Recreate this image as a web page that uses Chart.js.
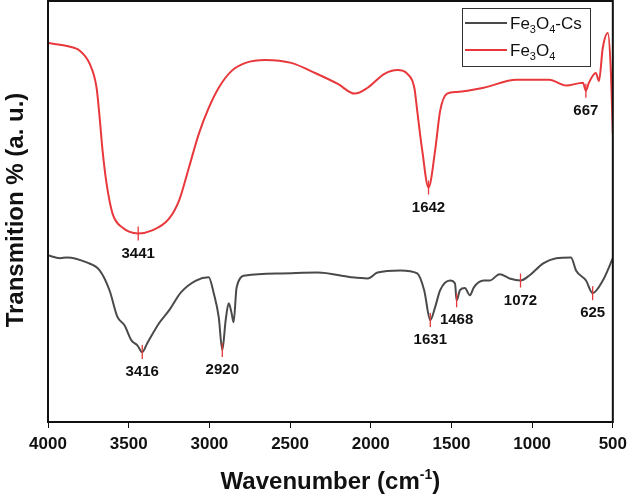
<!DOCTYPE html>
<html>
<head>
<meta charset="utf-8">
<script src="https://cdn.jsdelivr.net/npm/chart.js@4"></script>
<style>
  html, body { margin: 0; padding: 0; background: #fff; }
  #wrap { width: 633px; height: 499px; }
</style>
</head>
<body>
<div id="wrap"><canvas id="ftirChart"></canvas></div>
<script>
// Fe3O4 (red, top curve)
const fe3o4Wn = [4000, 3883, 3803, 3742, 3699, 3680, 3662, 3637, 3600, 3539, 3441, 3354, 3250, 3188, 3127, 3065, 3004, 2942, 2862, 2776, 2653, 2493, 2345, 2204, 2099, 2019, 1915, 1835, 1773, 1730, 1712, 1681, 1642, 1601, 1570, 1527, 1466, 1300, 1097, 894, 789, 685, 667, 648, 605, 586, 562, 531, 513, 500];
const fe3o4T = [90.0, 89.3, 88.2, 85.1, 79.4, 72.3, 64.5, 56.6, 49.5, 46.2, 44.8, 45.5, 48.3, 52.6, 60.4, 68.5, 74.6, 79.4, 83.4, 85.3, 86.0, 85.3, 82.9, 80.3, 78.0, 79.4, 82.7, 83.6, 82.7, 79.4, 73.9, 64.5, 55.7, 64.5, 73.9, 78.0, 78.4, 79.4, 81.3, 81.3, 79.9, 80.6, 78.7, 80.6, 82.9, 81.0, 88.9, 92.4, 84.1, 68.5];

// Fe3O4-Cs (dark grey, bottom curve)
const fe3o4CsWn = [4000, 3926, 3883, 3760, 3680, 3619, 3569, 3526, 3483, 3446, 3416, 3385, 3311, 3250, 3176, 3083, 3004, 2973, 2942, 2920, 2899, 2880, 2862, 2850, 2831, 2776, 2555, 2327, 2124, 2019, 1958, 1816, 1712, 1669, 1631, 1601, 1570, 1509, 1478, 1468, 1447, 1417, 1386, 1361, 1300, 1263, 1201, 1140, 1072, 1017, 931, 851, 759, 728, 666, 625, 562, 500];
const fe3o4CsT = [39.6, 38.9, 39.1, 37.9, 36.0, 31.3, 24.9, 23.0, 19.4, 18.2, 16.6, 18.7, 23.5, 26.5, 30.8, 33.6, 34.4, 30.6, 24.9, 17.1, 24.2, 28.2, 25.8, 23.7, 32.0, 34.8, 35.3, 35.5, 34.4, 34.1, 35.5, 36.0, 35.3, 31.3, 24.2, 27.3, 31.3, 33.6, 32.9, 28.9, 31.3, 31.8, 30.1, 32.0, 33.6, 33.6, 35.1, 34.1, 33.6, 34.8, 37.7, 38.9, 39.1, 36.0, 33.6, 30.6, 33.6, 38.9];

// Marked peaks
const fe3o4Peaks = [3441, 1642, 667];
const fe3o4CsPeaks = [3416, 2920, 1631, 1468, 1072, 625];

const RED = "#e8383b";
const GREY = "#4a4a4a";

function toPoints(wn, t) {
  return wn.map((w, i) => ({ x: w, y: t[i] }));
}

// linear interpolation of a series at a wavenumber
function valueAt(wn, t, w) {
  for (let i = 0; i < wn.length - 1; i++) {
    if (wn[i] >= w && wn[i + 1] <= w) {
      const f = (wn[i] - w) / (wn[i] - wn[i + 1]);
      return t[i] + f * (t[i + 1] - t[i]);
    }
  }
  return t[t.length - 1];
}

const decor = {
  id: "decor",
  afterDraw(chart) {
    const ctx = chart.ctx;
    const a = chart.chartArea;
    const xs = chart.scales.x, ys = chart.scales.y;
    ctx.save();

    // frame
    ctx.strokeStyle = "#111";
    ctx.lineWidth = 2;
    ctx.strokeRect(a.left, a.top, a.right - a.left, a.bottom - a.top);

    // peaks
    function drawPeaks(peaks, wn, t) {
      peaks.forEach((p) => {
        const px = xs.getPixelForValue(p);
        const py = ys.getPixelForValue(valueAt(wn, t, p));
        ctx.strokeStyle = RED;
        ctx.lineWidth = 1.3;
        ctx.beginPath();
        ctx.moveTo(px, py - 7);
        ctx.lineTo(px, py + 7);
        ctx.stroke();
        ctx.fillStyle = "#111";
        ctx.font = "bold 15px Arial";
        ctx.textAlign = "center";
        ctx.textBaseline = "middle";
        ctx.fillText(String(p), px, py + 20);
      });
    }
    drawPeaks(fe3o4Peaks, fe3o4Wn, fe3o4T);
    drawPeaks(fe3o4CsPeaks, fe3o4CsWn, fe3o4CsT);

    // legend
    const lx = 462, ly = 8, lw = 128, lh = 58;
    ctx.fillStyle = "#fff";
    ctx.fillRect(lx, ly, lw, lh);
    ctx.strokeStyle = "#333";
    ctx.lineWidth = 1;
    ctx.strokeRect(lx + 0.5, ly + 0.5, lw, lh);
    function legendRow(y, color, withCs) {
      ctx.strokeStyle = color;
      ctx.lineWidth = 2;
      ctx.beginPath();
      ctx.moveTo(lx + 3, y);
      ctx.lineTo(lx + 45, y);
      ctx.stroke();
      ctx.fillStyle = "#111";
      ctx.textAlign = "left";
      ctx.textBaseline = "alphabetic";
      let x = lx + 48;
      const parts = [["Fe", "17px Arial", 0], ["3", "11px Arial", 4], ["O", "17px Arial", 0], ["4", "11px Arial", 4]];
      if (withCs) parts.push(["-Cs", "17px Arial", 0]);
      parts.forEach(([s, f, dy]) => {
        ctx.font = f;
        ctx.fillText(s, x, y + 6 + dy);
        x += ctx.measureText(s).width;
      });
    }
    legendRow(ly + 15, GREY, true);
    legendRow(ly + 42, RED, false);

    // x title
    ctx.fillStyle = "#111";
    ctx.textAlign = "left";
    ctx.textBaseline = "alphabetic";
    const segs = [["Wavenumber (cm", "bold 24px Arial", 0], ["-1", "bold 14px Arial", -10], [")", "bold 24px Arial", 0]];
    let total = 0;
    segs.forEach(([s, f]) => { ctx.font = f; total += ctx.measureText(s).width; });
    let tx = (a.left + a.right) / 2 - total / 2;
    segs.forEach(([s, f, dy]) => {
      ctx.font = f;
      ctx.fillText(s, tx, 489 + dy);
      tx += ctx.measureText(s).width;
    });

    // y title
    ctx.translate(16, 210);
    ctx.rotate(-Math.PI / 2);
    ctx.font = "bold 24px Arial";
    ctx.textAlign = "center";
    ctx.textBaseline = "middle";
    ctx.fillText("Transmition % (a. u.)", 0, 0);
    ctx.restore();
  },
};

new Chart(document.getElementById("ftirChart"), {
  type: "line",
  data: {
    datasets: [
      { data: toPoints(fe3o4CsWn, fe3o4CsT), borderColor: GREY, borderWidth: 2, pointRadius: 0, cubicInterpolationMode: "monotone" },
      { data: toPoints(fe3o4Wn, fe3o4T), borderColor: RED, borderWidth: 2, pointRadius: 0, cubicInterpolationMode: "monotone" },
    ],
  },
  options: {
    responsive: true, maintainAspectRatio: false, animation: false,
    layout: { padding: { top: 1, right: 6 } },
    plugins: { legend: { display: false }, tooltip: { enabled: false } },
    scales: {
      x: {
        type: "linear", reverse: true, min: 500, max: 4000,
        afterFit: (s) => { s.height = 77; },
        grid: { display: true, drawOnChartArea: false, tickLength: 6, tickColor: "#111" },
        border: { display: true, color: "#111", width: 2 },
        ticks: { color: "#111", font: { size: 17, weight: "bold" }, padding: 6, callback: (v) => String(v) },
      },
      y: {
        min: 0, max: 100,
        afterFit: (s) => { s.width = 48; },
        grid: { display: false },
        border: { display: true, color: "#111", width: 2 },
        ticks: { display: false },
      },
    },
  },
  plugins: [decor],
});
</script>
</body>
</html>
